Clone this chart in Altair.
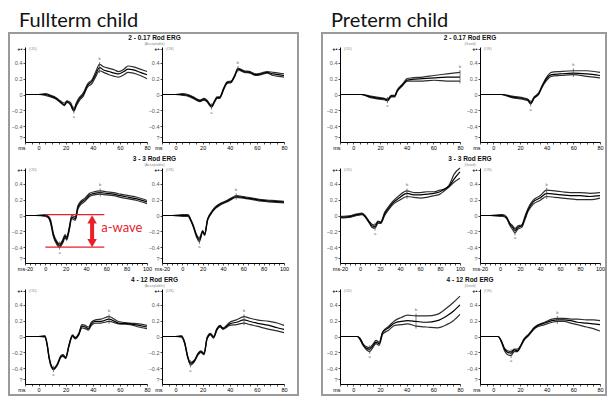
import altair as alt
import pandas as pd

# ---------------- text ----------------
GROUP_TITLES = ["Fullterm child", "Preterm child"]
ROW_TITLES = ["2 - 0.17 Rod ERG", "3 - 3 Rod ERG", "4 - 12 Rod ERG"]
ROW_SUBS_FT = ["(Acceptable)", "(Acceptable)", "(Acceptable)"]
ROW_SUBS_PT = ["(Good)", "(Good)", "(Good)"]
EYES = ["(OD)", "(OS)"]
Y_TICKS = [-0.54, -0.4, -0.2, 0.0, 0.2, 0.4, 0.58]
X_SHORT = [-10, 80]
X_LONG = [-20, 100]

# ---------------- traces (ms, uV-scaled) ----------------
# Fullterm, 0.17 Rod ERG
F1L_T = [-10, 0, 5, 9, 13, 16, 19, 21, 23.5, 26, 28, 30, 33, 36, 39.5, 42, 45, 48, 52, 56, 59, 63, 66, 70, 75, 80]
F1L_MID = [0, 0, 0, -0.02, -0.05, -0.09, -0.13, -0.09, -0.12, -0.20, -0.12, -0.06, 0.00, 0.11, 0.17, 0.25, 0.34, 0.31, 0.29, 0.27, 0.26, 0.29, 0.32, 0.31, 0.28, 0.25]
F1L_HI = [0, 0, 0.01, -0.01, -0.04, -0.08, -0.11, -0.08, -0.10, -0.18, -0.10, -0.04, 0.02, 0.13, 0.19, 0.28, 0.38, 0.35, 0.33, 0.31, 0.29, 0.32, 0.36, 0.35, 0.32, 0.29]
F1L_LO = [0, 0, -0.01, -0.03, -0.06, -0.10, -0.14, -0.10, -0.13, -0.21, -0.14, -0.08, -0.02, 0.09, 0.14, 0.22, 0.30, 0.28, 0.25, 0.23, 0.22, 0.25, 0.28, 0.27, 0.24, 0.20]
F1L_MARK = [26, 45]

F1R_T = [-10, 0, 5, 9, 13, 18, 21, 23, 26.5, 29, 30.6, 32.5, 35.7, 38, 41, 43.5, 46, 50.6, 55, 59, 63, 67.5, 72, 76, 80]
F1R_MID = [0, 0, 0, -0.01, -0.04, -0.08, -0.06, -0.08, -0.15, -0.08, -0.04, -0.04, 0.08, 0.15, 0.16, 0.23, 0.32, 0.29, 0.28, 0.25, 0.26, 0.28, 0.26, 0.25, 0.24]
F1R_HI = [0, 0, 0.01, 0, -0.03, -0.07, -0.05, -0.07, -0.14, -0.07, -0.03, -0.03, 0.09, 0.16, 0.17, 0.24, 0.33, 0.30, 0.29, 0.26, 0.27, 0.29, 0.28, 0.27, 0.26]
F1R_LO = [0, 0, -0.01, -0.02, -0.05, -0.09, -0.07, -0.09, -0.16, -0.09, -0.05, -0.05, 0.07, 0.14, 0.15, 0.22, 0.31, 0.28, 0.27, 0.24, 0.25, 0.27, 0.24, 0.23, 0.22]
F1R_MARK = [26.5, 46]

# Fullterm, 3 Rod ERG
F2L_T = [-20, -10, 0, 3, 5, 8, 11.5, 14, 17, 19.5, 21, 23.5, 26, 29.5, 32, 35, 39, 43.5, 48, 54, 60, 67, 74, 82, 90, 100]
F2L_MID = [0, 0, 0, -0.02, -0.07, -0.25, -0.35, -0.38, -0.33, -0.26, -0.29, -0.17, -0.02, -0.04, 0.10, 0.16, 0.20, 0.26, 0.28, 0.29, 0.28, 0.27, 0.25, 0.23, 0.21, 0.17]
F2L_HI = [0, 0, 0.01, -0.01, -0.05, -0.23, -0.33, -0.36, -0.31, -0.24, -0.27, -0.15, 0.00, -0.02, 0.12, 0.18, 0.22, 0.28, 0.30, 0.31, 0.30, 0.29, 0.27, 0.25, 0.23, 0.19]
F2L_LO = [0, 0, -0.01, -0.03, -0.09, -0.27, -0.37, -0.40, -0.35, -0.28, -0.31, -0.19, -0.04, -0.06, 0.08, 0.14, 0.18, 0.24, 0.26, 0.27, 0.26, 0.25, 0.23, 0.21, 0.19, 0.15]
F2L_MARK = [14, 54]

F2R_T = [-20, -10, 0, 5.7, 8, 10.4, 13.6, 16.8, 20, 22, 24.7, 27.8, 32.6, 37, 43.7, 48, 53, 60, 69, 78, 88, 100]
F2R_MID = [0, 0, 0, 0, -0.05, -0.12, -0.24, -0.31, -0.20, -0.24, -0.06, 0.02, 0.10, 0.14, 0.18, 0.21, 0.24, 0.23, 0.21, 0.19, 0.18, 0.17]
F2R_HI = [0, 0, 0.01, 0.01, -0.04, -0.11, -0.23, -0.29, -0.19, -0.23, -0.05, 0.03, 0.11, 0.15, 0.19, 0.22, 0.25, 0.24, 0.22, 0.20, 0.19, 0.18]
F2R_LO = [0, 0, -0.01, -0.01, -0.06, -0.13, -0.26, -0.33, -0.21, -0.25, -0.07, 0.01, 0.09, 0.13, 0.17, 0.20, 0.23, 0.22, 0.20, 0.18, 0.17, 0.16]
F2R_MARK = [16.8, 53]

# Fullterm, 12 Rod ERG
F3L_T = [-10, 0, 4.7, 6.4, 7.8, 9.5, 11, 14, 16.6, 18, 20, 22.5, 25, 27, 29.7, 32, 34.4, 36.8, 39, 42, 46, 52, 59, 67.7, 74, 80]
F3L_MID = [0, 0, 0, -0.11, -0.27, -0.38, -0.41, -0.35, -0.25, -0.24, -0.27, -0.11, 0.01, -0.02, 0.03, 0.13, 0.12, 0.10, 0.16, 0.19, 0.19, 0.22, 0.17, 0.16, 0.14, 0.12]
F3L_HI = [0, 0, 0.01, -0.10, -0.26, -0.37, -0.40, -0.34, -0.24, -0.23, -0.26, -0.10, 0.02, -0.01, 0.04, 0.15, 0.14, 0.12, 0.18, 0.21, 0.22, 0.25, 0.19, 0.17, 0.16, 0.14]
F3L_LO = [0, 0, -0.01, -0.12, -0.28, -0.39, -0.42, -0.36, -0.26, -0.25, -0.28, -0.12, 0.00, -0.03, 0.02, 0.11, 0.10, 0.08, 0.14, 0.17, 0.17, 0.19, 0.16, 0.15, 0.12, 0.10]
F3L_MARK = [11, 52]

F3R_T = [-10, 0, 4.3, 6.7, 9, 11, 13.8, 16.7, 18.6, 21, 23.3, 25.7, 28, 30.5, 32.8, 35, 40, 45, 50.5, 55, 60, 69, 75, 80]
F3R_MID = [0, 0, 0, -0.08, -0.26, -0.34, -0.31, -0.22, -0.19, -0.22, -0.02, 0.03, -0.01, 0.09, 0.13, 0.10, 0.16, 0.18, 0.21, 0.19, 0.17, 0.14, 0.11, 0.09]
F3R_HI = [0, 0, 0.01, -0.07, -0.25, -0.33, -0.30, -0.21, -0.18, -0.21, -0.01, 0.04, 0.00, 0.10, 0.14, 0.11, 0.18, 0.21, 0.25, 0.23, 0.21, 0.19, 0.17, 0.14]
F3R_LO = [0, 0, -0.01, -0.09, -0.27, -0.36, -0.32, -0.23, -0.20, -0.23, -0.03, 0.02, -0.02, 0.08, 0.12, 0.09, 0.14, 0.15, 0.17, 0.15, 0.13, 0.09, 0.07, 0.05]
F3R_MARK = [11, 50.5]

# Preterm, 0.17 Rod ERG
P1L_T = [-10, 0, 6, 13, 20, 23.7, 25.6, 28.5, 31, 33, 36.8, 40.4, 44, 52, 60.5, 70, 80]
P1L_MID = [0, 0, 0, -0.03, -0.05, -0.06, -0.07, -0.02, -0.02, 0.05, 0.12, 0.18, 0.19, 0.20, 0.21, 0.22, 0.22]
P1L_HI = [0, 0, 0, -0.02, -0.04, -0.05, -0.06, -0.01, -0.01, 0.06, 0.13, 0.20, 0.21, 0.22, 0.24, 0.26, 0.28]
P1L_LO = [0, 0, 0, -0.04, -0.06, -0.07, -0.08, -0.03, -0.03, 0.04, 0.11, 0.17, 0.17, 0.17, 0.18, 0.17, 0.17]
P1L_MARK = [25.6, 80]

P1R_T = [-10, 0, 6, 14, 22, 26, 28, 30.6, 34, 36.5, 40, 43.5, 50, 60, 70, 80]
P1R_MID = [0, 0, 0, -0.03, -0.05, -0.07, -0.11, -0.04, 0.01, 0.10, 0.20, 0.25, 0.26, 0.27, 0.26, 0.24]
P1R_HI = [0, 0, 0, -0.02, -0.04, -0.06, -0.10, -0.03, 0.02, 0.11, 0.22, 0.28, 0.29, 0.30, 0.30, 0.28]
P1R_LO = [0, 0, 0, -0.04, -0.06, -0.08, -0.12, -0.05, 0.00, 0.09, 0.18, 0.23, 0.24, 0.25, 0.23, 0.21]
P1R_MARK = [28, 60]

# Preterm, 3 Rod ERG
P2L_T = [-20, -9, -3, 2, 5.7, 9, 12, 15, 18, 20.7, 24.7, 29, 33, 39, 47, 54, 60.7, 67, 74, 80, 84, 89, 94, 100]
P2L_MID = [-0.02, -0.01, 0.01, 0.02, -0.02, -0.08, -0.13, -0.14, -0.08, -0.09, 0.02, 0.10, 0.16, 0.22, 0.28, 0.26, 0.26, 0.27, 0.28, 0.30, 0.33, 0.37, 0.46, 0.55]
P2L_HI = [-0.01, 0.00, 0.02, 0.03, -0.01, -0.07, -0.11, -0.12, -0.07, -0.08, 0.04, 0.12, 0.18, 0.25, 0.31, 0.29, 0.29, 0.30, 0.30, 0.32, 0.33, 0.38, 0.52, 0.60]
P2L_LO = [-0.03, -0.02, 0.00, 0.01, -0.03, -0.09, -0.15, -0.16, -0.10, -0.10, 0.00, 0.08, 0.14, 0.19, 0.24, 0.23, 0.22, 0.23, 0.25, 0.27, 0.31, 0.36, 0.42, 0.47]
P2L_MARK = [15, 47]

P2R_T = [-20, -10, 0, 3, 6.7, 10, 12.7, 15, 18, 21.7, 25, 28, 33, 40, 46.7, 55, 62, 70, 80, 90, 100]
P2R_MID = [0, 0, 0, 0, -0.03, -0.11, -0.15, -0.19, -0.15, -0.13, -0.03, 0.07, 0.17, 0.22, 0.28, 0.27, 0.26, 0.25, 0.25, 0.24, 0.25]
P2R_HI = [0, 0, 0.01, 0.01, -0.02, -0.10, -0.13, -0.17, -0.13, -0.12, -0.01, 0.09, 0.19, 0.25, 0.32, 0.31, 0.30, 0.29, 0.29, 0.28, 0.29]
P2R_LO = [0, 0, -0.01, -0.01, -0.04, -0.13, -0.18, -0.22, -0.17, -0.15, -0.05, 0.05, 0.14, 0.19, 0.24, 0.23, 0.22, 0.21, 0.20, 0.20, 0.22]
P2R_MARK = [15, 46.7]

# Preterm, 12 Rod ERG
P3L_T = [-10, 0, 3, 5, 7.6, 10, 12.3, 15, 17, 19.4, 22, 26.5, 31, 36, 40.7, 47, 55, 63, 70, 75, 80]
P3L_MID = [0, 0, 0, -0.03, -0.11, -0.15, -0.16, -0.11, -0.07, -0.09, 0.05, 0.11, 0.17, 0.19, 0.20, 0.19, 0.18, 0.20, 0.26, 0.32, 0.40]
P3L_HI = [0, 0, 0, -0.02, -0.10, -0.13, -0.14, -0.09, -0.05, -0.07, 0.06, 0.13, 0.20, 0.24, 0.27, 0.26, 0.26, 0.28, 0.36, 0.43, 0.51]
P3L_LO = [0, 0, 0, -0.04, -0.12, -0.17, -0.19, -0.13, -0.09, -0.11, 0.03, 0.08, 0.14, 0.15, 0.16, 0.13, 0.12, 0.11, 0.15, 0.20, 0.28]
P3L_MARK = [12.3, 47]

P3R_T = [-10, 0, 3.6, 6, 8.4, 10.8, 13.3, 15.7, 18, 20.5, 23, 26.5, 31, 38.5, 44, 48, 53, 58, 63, 70, 75, 80]
P3R_MID = [0, 0, 0, -0.06, -0.16, -0.20, -0.21, -0.17, -0.18, -0.12, -0.04, 0.02, 0.11, 0.17, 0.20, 0.21, 0.21, 0.20, 0.18, 0.17, 0.16, 0.15]
P3R_HI = [0, 0, 0, -0.05, -0.15, -0.18, -0.19, -0.16, -0.16, -0.11, -0.03, 0.03, 0.12, 0.18, 0.22, 0.23, 0.23, 0.22, 0.22, 0.21, 0.21, 0.20]
P3R_LO = [0, 0, 0, -0.07, -0.18, -0.23, -0.24, -0.19, -0.19, -0.13, -0.05, 0.01, 0.10, 0.15, 0.18, 0.19, 0.19, 0.17, 0.15, 0.12, 0.10, 0.07]
P3R_MARK = [13.3, 48]

# a-wave annotation (fullterm, 3 Rod ERG, left)
AWAVE_Y = [0.01, -0.40]
AWAVE_X = [0, 58]
ARROW_T = 46
ARROW_SHAFT = [-0.06, -0.34]
ARROW_HEADS = [-0.05, -0.35]
AWAVE_LABEL = ["a-wave"]
AWAVE_LABEL_POS = [55, -0.16]

# ---------------- style / layout ----------------
RED = "#e8202a"
H = 95
ROW_GAP = 26
FT_W, FT_GAP = 122, 15
PT_W, PT_GAP = 120, 20


def panel(T, HI, MID, LO, MARK, xdom, first_label, eye, W, gap,
          row_title=None, row_sub=None, box=None, annotate=False):
    recs = []
    for s, arr in (("hi", HI), ("lo", LO), ("mid", MID)):
        for t, v in zip(T, arr):
            recs.append({"t": t, "v": v, "s": s})
    df = pd.DataFrame(recs)

    xvals = list(range(xdom[0], xdom[1] + 1, 5))
    x_axis = alt.Axis(
        values=xvals, title=None, grid=False, labelFlush=False, labelOverlap=False,
        labelExpr=f"datum.value == {xdom[0]} ? '{first_label}' : (datum.value % 20 == 0 ? datum.label : '')",
        labelAlign={"condition": {"test": f"datum.value == {xdom[0]}",
                                  "value": "right" if first_label == "ms" else "center"},
                    "value": "center"},
    )
    y_axis = alt.Axis(
        values=Y_TICKS, title=None, grid=False, labelOverlap=False, labelFlush=False,
        labelExpr="datum.value > 0.5 ? '+•' : (datum.value < -0.5 ? '?' : format(datum.value, '.1~f'))",
        labelColor={"condition": {"test": "datum.value > 0.5", "value": "#000"}, "value": "#555"},
        labelFontWeight={"condition": {"test": "datum.value > 0.5", "value": "bold"}, "value": "normal"},
    )
    xs = alt.Scale(domain=xdom, nice=False, zero=False)
    ys = alt.Scale(domain=[-0.6, 0.6], nice=False, zero=False)

    lines = alt.Chart(df).mark_line(interpolate="monotone", strokeWidth=1.2).encode(
        x=alt.X("t:Q", scale=xs, axis=x_axis),
        y=alt.Y("v:Q", scale=ys, axis=y_axis),
        color=alt.Color("s:N", scale=alt.Scale(domain=["hi", "mid", "lo"],
                                               range=["#2e2e2e", "#000000", "#2e2e2e"]), legend=None),
    )

    # peak / trough markers
    mrec = []
    for k, mt in enumerate(MARK):
        i = min(range(len(T)), key=lambda j: abs(T[j] - mt))
        lo = min(HI[i], MID[i], LO[i]) - 0.03
        hi = max(HI[i], MID[i], LO[i]) + 0.03
        mrec.append({"t": T[i], "y1": lo, "y2": hi,
                     "ty": lo - 0.04 if k == 0 else hi + 0.04,
                     "lab": "a" if k == 0 else "b"})
    mdf = pd.DataFrame(mrec)
    rules = alt.Chart(mdf).mark_rule(color="#444", strokeWidth=0.7).encode(
        x=alt.X("t:Q", scale=xs, axis=x_axis), y=alt.Y("y1:Q", scale=ys, axis=y_axis), y2="y2:Q")
    mlabels = alt.Chart(mdf).mark_text(fontSize=4, color="#666", font="Liberation Sans").encode(
        x=alt.X("t:Q", scale=xs, axis=x_axis), y=alt.Y("ty:Q", scale=ys, axis=y_axis), text="lab:N")

    eye_df = pd.DataFrame({"lab": [eye]})
    eye_t = alt.Chart(eye_df).mark_text(fontSize=3.6, color="#888", align="left", baseline="middle",
                                        font="Liberation Sans").encode(
        x=alt.value(4), y=alt.value(2), text="lab:N")

    layers = [lines, rules, mlabels, eye_t]

    if annotate:
        ldf = pd.DataFrame({"x0": [AWAVE_X[0]] * 2, "x1": [AWAVE_X[1]] * 2, "y": AWAVE_Y})
        layers.append(alt.Chart(ldf).mark_rule(color=RED, strokeWidth=1.3).encode(
            x=alt.X("x0:Q", scale=xs, axis=x_axis), x2="x1:Q", y=alt.Y("y:Q", scale=ys, axis=y_axis)))
        sdf = pd.DataFrame({"t": [ARROW_T], "y0": [ARROW_SHAFT[0]], "y1": [ARROW_SHAFT[1]]})
        layers.append(alt.Chart(sdf).mark_rule(color=RED, strokeWidth=4).encode(
            x=alt.X("t:Q", scale=xs, axis=x_axis), y=alt.Y("y0:Q", scale=ys, axis=y_axis), y2="y1:Q"))
        hdf_up = pd.DataFrame({"t": [ARROW_T], "y": [ARROW_HEADS[0]]})
        hdf_dn = pd.DataFrame({"t": [ARROW_T], "y": [ARROW_HEADS[1]]})
        for hdf, shp in ((hdf_up, "triangle-up"), (hdf_dn, "triangle-down")):
            layers.append(alt.Chart(hdf).mark_point(shape=shp, filled=True, color=RED, opacity=1,
                                                    size=90).encode(
                x=alt.X("t:Q", scale=xs, axis=x_axis), y=alt.Y("y:Q", scale=ys, axis=y_axis)))
        tdf = pd.DataFrame({"t": [AWAVE_LABEL_POS[0]], "y": [AWAVE_LABEL_POS[1]], "lab": AWAVE_LABEL})
        layers.append(alt.Chart(tdf).mark_text(color=RED, fontSize=13, align="left", baseline="middle",
                                               font="Lato").encode(
            x=alt.X("t:Q", scale=xs, axis=x_axis), y=alt.Y("y:Q", scale=ys, axis=y_axis), text="lab:N"))

    if row_title is not None:
        rdf = pd.DataFrame({"lab": [row_title]})
        layers.append(alt.Chart(rdf).mark_text(fontSize=6.5, fontWeight="bold", font="Liberation Sans",
                                               align="center", baseline="middle", color="#111").encode(
            x=alt.value(W + gap / 2), y=alt.value(-9), text="lab:N"))
        sdf2 = pd.DataFrame({"lab": [row_sub]})
        layers.append(alt.Chart(sdf2).mark_text(fontSize=3.6, font="Liberation Sans", color="#888",
                                                align="center", baseline="middle").encode(
            x=alt.value(W + gap / 2), y=alt.value(-3.5), text="lab:N"))

    if box is not None:
        bdf = pd.DataFrame({"k": [0]})
        layers.append(alt.Chart(bdf).mark_rect(fillOpacity=0, stroke="#9a9a9a", strokeWidth=2).encode(
            x=alt.value(box[0]), x2=alt.value(box[1]), y=alt.value(box[2]), y2=alt.value(box[3])))

    return alt.layer(*layers).properties(width=W, height=H)


FT_DATA = [
    (F1L_T, F1L_HI, F1L_MID, F1L_LO, F1L_MARK, X_SHORT, "ms"),
    (F1R_T, F1R_HI, F1R_MID, F1R_LO, F1R_MARK, X_SHORT, "ms"),
    (F2L_T, F2L_HI, F2L_MID, F2L_LO, F2L_MARK, X_LONG, "ms-20"),
    (F2R_T, F2R_HI, F2R_MID, F2R_LO, F2R_MARK, X_LONG, "ms-20"),
    (F3L_T, F3L_HI, F3L_MID, F3L_LO, F3L_MARK, X_SHORT, "ms"),
    (F3R_T, F3R_HI, F3R_MID, F3R_LO, F3R_MARK, X_SHORT, "ms"),
]
PT_DATA = [
    (P1L_T, P1L_HI, P1L_MID, P1L_LO, P1L_MARK, X_SHORT, "ms"),
    (P1R_T, P1R_HI, P1R_MID, P1R_LO, P1R_MARK, X_SHORT, "ms"),
    (P2L_T, P2L_HI, P2L_MID, P2L_LO, P2L_MARK, X_LONG, "ms-20"),
    (P2R_T, P2R_HI, P2R_MID, P2R_LO, P2R_MARK, X_LONG, "ms-20"),
    (P3L_T, P3L_HI, P3L_MID, P3L_LO, P3L_MARK, X_SHORT, "ms"),
    (P3R_T, P3R_HI, P3R_MID, P3R_LO, P3R_MARK, X_SHORT, "ms"),
]


def group(data, W, gap, subs, title, box, dx):
    panels = []
    for k, (T, HI, MID, LO, MARK, xdom, fl) in enumerate(data):
        r, c = divmod(k, 2)
        panels.append(panel(
            T, HI, MID, LO, MARK, xdom, fl, EYES[c], W, gap,
            row_title=ROW_TITLES[r] if c == 0 else None,
            row_sub=subs[r] if c == 0 else None,
            box=box if k == 0 else None,
            annotate=(title == GROUP_TITLES[0] and k == 2),
        ))
    return alt.concat(
        *panels, columns=2, bounds="flush",
        spacing={"row": ROW_GAP, "column": gap},
        title=alt.TitleParams(title, anchor="start", fontSize=20, font="Lato", fontWeight="normal",
                              color="#111", offset=1, dx=dx),
    )


ft = group(FT_DATA, FT_W, FT_GAP, ROW_SUBS_FT, GROUP_TITLES[0], [-16, 273, -14, 348], 11)
pt = group(PT_DATA, PT_W, PT_GAP, ROW_SUBS_PT, GROUP_TITLES[1], [-18, 266, -14, 348], 10)

chart = alt.hconcat(ft, pt, spacing=22).properties(
    padding={"left": 0, "top": 3, "right": 0, "bottom": 0}
).configure_view(strokeWidth=0).configure_axis(
    domainColor="#000", domainWidth=1, tickColor="#000", tickWidth=0.7, tickSize=2,
    labelFont="Liberation Sans", labelFontSize=5.5, labelPadding=1,
)

chart.save("out.html", embed_options={"renderer": "svg", "actions": False})
